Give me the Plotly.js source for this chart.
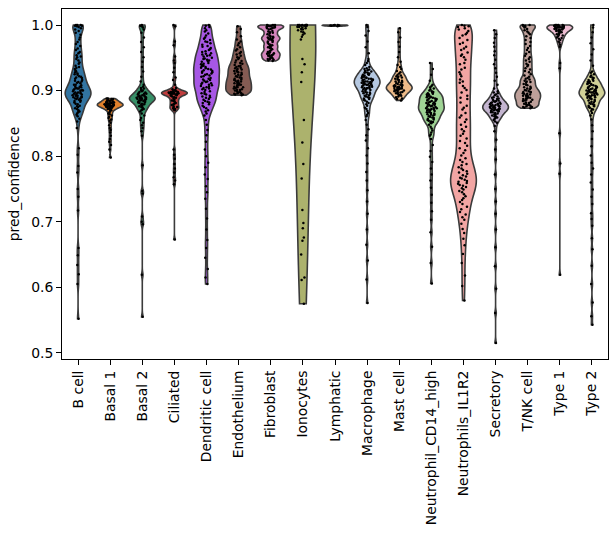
<!DOCTYPE html>
<html>
<head>
<meta charset="utf-8">
<script src="https://cdn.plot.ly/plotly-3.0.1.min.js"></script>
<style>
  html, body { margin: 0; padding: 0; background: #fff; }
  #chart { width: 613px; height: 534px; }
</style>
</head>
<body>
<div id="chart"></div>
<script>
// Cell-type groups, in plotting order
const categories = ['B cell', 'Basal 1', 'Basal 2', 'Ciliated', 'Dendritic cell', 'Endothelium',
  'Fibroblast', 'Ionocytes', 'Lymphatic', 'Macrophage', 'Mast cell', 'Neutrophil_CD14_high',
  'Neutrophils_IL1R2', 'Secretory', 'T/NK cell', 'Type 1', 'Type 2'];

// pred_confidence per cell, one array per group
const bCell = [1.000, 1.000, 1.000, 0.999, 0.999, 0.998, 0.997, 0.995, 0.993, 0.991,
  0.988, 0.985, 0.981, 0.978, 0.974, 0.971, 0.968, 0.964, 0.962, 0.959, 0.957, 0.954, 0.952, 0.951,
  0.948, 0.946, 0.943, 0.941, 0.938, 0.936, 0.935, 0.933, 0.931, 0.929, 0.928, 0.926, 0.925, 0.924, 0.922, 0.921, 0.920,
  0.919, 0.918, 0.916, 0.915, 0.914, 0.913, 0.912, 0.911, 0.909, 0.909, 0.908, 0.906, 0.906, 0.905, 0.904, 0.903, 0.903, 0.902, 0.901, 0.901, 0.900, 0.900,
  0.899, 0.898, 0.897, 0.897, 0.896, 0.895, 0.895, 0.894, 0.893, 0.893, 0.892, 0.892, 0.891, 0.890, 0.890, 0.889, 0.888, 0.888, 0.887, 0.886, 0.885, 0.884, 0.883, 0.882,
  0.880, 0.879, 0.877, 0.876, 0.875, 0.873, 0.872, 0.870, 0.868, 0.867, 0.865, 0.863, 0.861,
  0.857, 0.853,
  0.843, 0.812, 0.802, 0.785, 0.775, 0.750, 0.738, 0.717, 0.660, 0.649, 0.634, 0.620, 0.605, 0.552];

const basal1 = [0.888, 0.888, 0.887, 0.887, 0.886, 0.886, 0.885, 0.885, 0.884, 0.884,
  0.883, 0.883, 0.882, 0.882, 0.882, 0.881, 0.881, 0.881, 0.880, 0.880, 0.880, 0.879, 0.879, 0.879, 0.879,
  0.878, 0.878, 0.878, 0.878, 0.877, 0.877, 0.877, 0.877, 0.876, 0.876, 0.876, 0.876, 0.875,
  0.875, 0.874, 0.874, 0.873, 0.873, 0.872, 0.872, 0.871, 0.870, 0.869,
  0.867, 0.865, 0.864, 0.862, 0.860, 0.858, 0.856, 0.854, 0.851,
  0.847, 0.843, 0.840, 0.836, 0.831, 0.826, 0.822, 0.817, 0.810, 0.798];

const basal2 = [1.000, 0.999, 0.998, 0.996, 0.993,
  0.988, 0.981, 0.974, 0.966, 0.959, 0.951, 0.944, 0.936, 0.929, 0.921, 0.914, 0.909, 0.906,
  0.904, 0.903, 0.901, 0.900, 0.899, 0.898, 0.897, 0.896, 0.895, 0.895, 0.894, 0.893, 0.893, 0.892, 0.891, 0.891,
  0.890, 0.890, 0.889, 0.889, 0.888, 0.888, 0.888, 0.887, 0.887, 0.886, 0.886, 0.885, 0.885, 0.884, 0.884,
  0.883, 0.882, 0.882, 0.881, 0.880, 0.879, 0.878, 0.877, 0.876, 0.875, 0.874, 0.872, 0.871, 0.870,
  0.868, 0.865, 0.862, 0.858, 0.855, 0.851, 0.847, 0.843, 0.838, 0.831,
  0.786, 0.747, 0.743, 0.708, 0.700, 0.696, 0.619, 0.555];

const ciliated = [1.000, 0.998, 0.975, 0.969, 0.952, 0.946, 0.942, 0.935, 0.928, 0.920, 0.916, 0.909,
  0.904, 0.902, 0.901, 0.900, 0.899, 0.899, 0.898, 0.898, 0.898, 0.897, 0.897, 0.897, 0.897,
  0.896, 0.896, 0.896, 0.896, 0.895, 0.895, 0.895, 0.894, 0.894, 0.893, 0.893, 0.892, 0.891,
  0.890, 0.889, 0.888, 0.886, 0.885, 0.884, 0.883, 0.881, 0.880, 0.879, 0.878, 0.876, 0.875, 0.874, 0.873, 0.872, 0.871, 0.870,
  0.810, 0.802, 0.796, 0.788, 0.781, 0.775, 0.768, 0.763, 0.757, 0.673];

const dendritic = [1.000, 0.999, 0.997, 0.995, 0.992, 0.990, 0.987, 0.984, 0.981,
  0.979, 0.977, 0.975, 0.974, 0.972, 0.970, 0.968, 0.967, 0.965, 0.963, 0.962, 0.960, 0.959, 0.957, 0.956, 0.955, 0.954, 0.953, 0.952, 0.950,
  0.949, 0.948, 0.947, 0.946, 0.945, 0.944, 0.942, 0.941, 0.940, 0.939, 0.938, 0.937, 0.936, 0.935,
  0.934, 0.933, 0.932, 0.931, 0.930, 0.929, 0.928, 0.927, 0.926, 0.925, 0.924, 0.923, 0.922, 0.921,
  0.919, 0.918, 0.917, 0.916, 0.915, 0.914, 0.913, 0.912, 0.911, 0.910, 0.909, 0.908, 0.907, 0.906, 0.905, 0.904, 0.903, 0.902, 0.901,
  0.899, 0.898, 0.896, 0.895, 0.894, 0.892, 0.891, 0.890, 0.889, 0.887, 0.886, 0.884, 0.883, 0.882, 0.881,
  0.879, 0.877, 0.875, 0.873, 0.870, 0.868, 0.865, 0.862,
  0.855, 0.848, 0.840, 0.832, 0.822, 0.810, 0.800, 0.790, 0.783, 0.772, 0.765, 0.754,
  0.745, 0.735, 0.720, 0.705, 0.688, 0.672, 0.660, 0.645, 0.628, 0.615, 0.605];

const endothelium = [0.998, 0.994, 0.989, 0.983,
  0.978, 0.975, 0.972, 0.969, 0.966, 0.963, 0.961,
  0.959, 0.957, 0.955, 0.953, 0.951, 0.950, 0.948, 0.946, 0.945, 0.943, 0.942, 0.941,
  0.939, 0.938, 0.937, 0.936, 0.935, 0.934, 0.933, 0.932, 0.931, 0.930, 0.929, 0.928, 0.927, 0.926, 0.925, 0.924, 0.923, 0.922, 0.921,
  0.920, 0.919, 0.918, 0.917, 0.916, 0.915, 0.915, 0.914, 0.913, 0.912, 0.911, 0.910, 0.910, 0.909, 0.908, 0.907,
  0.906, 0.905, 0.905, 0.904, 0.903, 0.902, 0.901, 0.901, 0.900,
  0.899, 0.898, 0.897, 0.896, 0.896, 0.895, 0.894, 0.894, 0.893];

const fibroblast = [1.000, 1.000, 1.000, 0.999, 0.999, 0.999, 0.998, 0.998, 0.997, 0.997, 0.996, 0.996, 0.995, 0.995,
  0.994, 0.993, 0.991, 0.990, 0.989, 0.988, 0.987, 0.986,
  0.984, 0.983, 0.982, 0.981, 0.981, 0.980, 0.979, 0.979, 0.978, 0.977, 0.976, 0.975,
  0.974, 0.973, 0.971, 0.970, 0.969, 0.968, 0.967, 0.966, 0.965, 0.964, 0.963,
  0.961, 0.960, 0.959, 0.958, 0.957, 0.957, 0.956, 0.955, 0.954, 0.954, 0.953, 0.952, 0.951, 0.950,
  0.949, 0.948, 0.948, 0.947, 0.946, 0.945];

const ionocytes = [1.000, 1.000, 1.000, 1.000, 1.000, 1.000, 0.999, 0.999, 0.999, 0.998, 0.998,
  0.997, 0.997, 0.996, 0.995, 0.994, 0.993, 0.992, 0.990, 0.989, 0.987, 0.985, 0.982, 0.978,
  0.948, 0.940, 0.928, 0.913, 0.855, 0.821, 0.788, 0.766, 0.718, 0.698, 0.690, 0.676, 0.671, 0.650, 0.615, 0.611, 0.575];

const lymphatic = [1.000, 1.000, 0.9997, 0.9994, 0.9991, 0.9987, 0.9982];

const macrophage = [1.000, 0.997, 0.991, 0.984, 0.975, 0.966, 0.957,
  0.948, 0.945, 0.942, 0.939, 0.936,
  0.934, 0.933, 0.932, 0.931, 0.930, 0.929, 0.928, 0.927, 0.927, 0.926, 0.925, 0.924, 0.924, 0.923, 0.922, 0.922, 0.921, 0.921, 0.920,
  0.919, 0.919, 0.918, 0.918, 0.917, 0.917, 0.916, 0.916, 0.915, 0.915, 0.914, 0.914, 0.913, 0.913, 0.912, 0.912, 0.911, 0.911,
  0.910, 0.910, 0.909, 0.909, 0.908, 0.908, 0.907, 0.907, 0.906, 0.905, 0.905, 0.904, 0.904, 0.903, 0.902, 0.902, 0.901, 0.900,
  0.899, 0.898, 0.897, 0.897, 0.896, 0.895, 0.894, 0.893, 0.892, 0.891, 0.890, 0.889, 0.888, 0.887, 0.886, 0.885,
  0.883, 0.881, 0.879, 0.877, 0.874, 0.872, 0.869, 0.866, 0.863, 0.861,
  0.855, 0.848, 0.841, 0.832, 0.824, 0.812, 0.801, 0.789, 0.776, 0.763, 0.748, 0.731, 0.712,
  0.688, 0.665, 0.641, 0.612, 0.576];

const mastCell = [0.995, 0.989, 0.981, 0.974, 0.967, 0.959, 0.951, 0.944,
  0.939, 0.936, 0.933, 0.930, 0.928, 0.926,
  0.924, 0.923, 0.922, 0.921, 0.920, 0.919, 0.918, 0.917, 0.916, 0.915, 0.914, 0.913, 0.913, 0.912, 0.911, 0.910,
  0.909, 0.909, 0.908, 0.908, 0.907, 0.907, 0.906, 0.906, 0.905, 0.905, 0.904, 0.904, 0.903, 0.903,
  0.902, 0.902, 0.901, 0.901, 0.900, 0.900, 0.899, 0.898, 0.898, 0.897, 0.896, 0.895,
  0.894, 0.893, 0.892, 0.891, 0.890, 0.888, 0.887, 0.885];

const neutrophilCD14 = [0.942, 0.933, 0.924, 0.915,
  0.909, 0.907, 0.905, 0.903, 0.902, 0.900, 0.899, 0.898, 0.897, 0.896,
  0.895, 0.894, 0.894, 0.893, 0.892, 0.892, 0.891, 0.890, 0.890, 0.889, 0.888, 0.888, 0.887, 0.886,
  0.886, 0.885, 0.884, 0.884, 0.883, 0.882, 0.882, 0.881, 0.880, 0.880, 0.879, 0.878, 0.878, 0.877,
  0.876, 0.876, 0.875, 0.874, 0.874, 0.873, 0.873, 0.872, 0.872, 0.871, 0.871, 0.870, 0.870,
  0.869, 0.868, 0.867, 0.867, 0.866, 0.865, 0.864, 0.863, 0.863, 0.862, 0.861, 0.860, 0.859, 0.858,
  0.857, 0.856, 0.855, 0.854, 0.853, 0.852, 0.851, 0.850,
  0.848, 0.845, 0.842, 0.839, 0.836, 0.833, 0.831,
  0.826, 0.817, 0.808, 0.799, 0.791, 0.781, 0.772, 0.763, 0.752, 0.741, 0.729, 0.716, 0.703,
  0.684, 0.662, 0.637, 0.606];

const neutrophilsIL1R2 = [1.000, 0.999, 0.998, 0.997, 0.995, 0.993, 0.991, 0.988, 0.986, 0.984, 0.980,
  0.977, 0.973, 0.971, 0.967, 0.964, 0.962, 0.958, 0.955, 0.953, 0.951,
  0.947, 0.942, 0.940, 0.935, 0.932, 0.928, 0.925, 0.922, 0.917, 0.914, 0.912, 0.907, 0.904, 0.901,
  0.897, 0.892, 0.889, 0.887, 0.882, 0.877, 0.874, 0.871, 0.866, 0.862, 0.859, 0.856, 0.852,
  0.848, 0.845, 0.841, 0.838, 0.834, 0.831, 0.827, 0.823, 0.820, 0.816, 0.812, 0.809, 0.805, 0.801,
  0.797, 0.794, 0.791, 0.788, 0.786, 0.783, 0.781, 0.779, 0.777, 0.775, 0.773, 0.771, 0.769, 0.767,
  0.766, 0.764, 0.762, 0.761, 0.759, 0.758, 0.756, 0.755, 0.753, 0.751, 0.749, 0.747, 0.745, 0.742,
  0.739, 0.736, 0.733, 0.730, 0.727, 0.723, 0.719, 0.715, 0.711, 0.707, 0.703,
  0.697, 0.689, 0.683, 0.674, 0.664,
  0.651, 0.637, 0.618, 0.602, 0.580];

const secretory = [0.992, 0.986, 0.980, 0.973, 0.967, 0.960, 0.954, 0.947, 0.940, 0.934, 0.927, 0.921, 0.915, 0.909, 0.903,
  0.899, 0.897, 0.896, 0.894, 0.893, 0.891, 0.890, 0.889, 0.888, 0.887, 0.886,
  0.885, 0.884, 0.884, 0.883, 0.882, 0.882, 0.881, 0.880, 0.880, 0.879, 0.879, 0.878, 0.878, 0.877, 0.877, 0.876, 0.876, 0.875,
  0.875, 0.874, 0.874, 0.873, 0.873, 0.872, 0.872, 0.871, 0.871, 0.870, 0.870, 0.869, 0.869, 0.868, 0.867, 0.867, 0.866, 0.865,
  0.864, 0.863, 0.862, 0.861, 0.860, 0.859, 0.858, 0.857, 0.855, 0.853, 0.851,
  0.846, 0.838, 0.825, 0.810, 0.795, 0.772, 0.750, 0.731, 0.712,
  0.688, 0.661, 0.632, 0.598, 0.561, 0.515];

const tnkCell = [1.000, 1.000, 0.999, 0.999, 0.998, 0.997, 0.996, 0.994, 0.992, 0.990, 0.988, 0.986,
  0.983, 0.980, 0.977, 0.974, 0.971, 0.968, 0.965, 0.962, 0.959, 0.956, 0.953, 0.951,
  0.948, 0.946, 0.944, 0.941, 0.939, 0.937, 0.934, 0.932, 0.930, 0.928, 0.925, 0.923, 0.921,
  0.919, 0.918, 0.917, 0.915, 0.914, 0.913, 0.912, 0.910, 0.909, 0.908, 0.906, 0.905, 0.904, 0.903, 0.902, 0.901,
  0.900, 0.899, 0.898, 0.898, 0.897, 0.896, 0.895, 0.895, 0.894, 0.893, 0.892, 0.892, 0.891, 0.890,
  0.889, 0.889, 0.888, 0.887, 0.886, 0.886, 0.885, 0.884, 0.883, 0.882, 0.881, 0.880,
  0.879, 0.878, 0.878, 0.877, 0.876, 0.875, 0.875, 0.874, 0.873];

const type1 = [1.000, 1.000, 1.000, 1.000, 0.999, 0.999, 0.999, 0.999, 0.998, 0.998, 0.998, 0.997, 0.997, 0.997,
  0.996, 0.996, 0.996, 0.995, 0.995, 0.995,
  0.994, 0.994, 0.993, 0.993, 0.992, 0.992, 0.991, 0.990, 0.990, 0.989, 0.988, 0.987, 0.986, 0.985,
  0.984, 0.983, 0.981, 0.980, 0.979, 0.977, 0.975,
  0.973, 0.970, 0.967,
  0.942, 0.934, 0.835, 0.789, 0.773, 0.619];

const type2 = [1.000, 0.996, 0.989, 0.981, 0.972, 0.963, 0.955, 0.946, 0.938,
  0.929, 0.927, 0.925, 0.923, 0.921, 0.920, 0.919, 0.917, 0.916,
  0.915, 0.914, 0.913, 0.913, 0.912, 0.911, 0.910, 0.910, 0.909, 0.908, 0.907, 0.907, 0.906, 0.905, 0.905,
  0.904, 0.903, 0.903, 0.902, 0.901, 0.901, 0.900, 0.900, 0.899, 0.899, 0.898, 0.898, 0.897, 0.897,
  0.896, 0.896, 0.895, 0.895, 0.894, 0.894, 0.893, 0.893, 0.892, 0.892, 0.891, 0.891, 0.890, 0.890,
  0.889, 0.888, 0.887, 0.886, 0.885, 0.884, 0.883, 0.882, 0.881, 0.880, 0.879, 0.878, 0.877, 0.876, 0.875, 0.874, 0.872, 0.871,
  0.869, 0.866, 0.862,
  0.856, 0.847, 0.838, 0.826, 0.815, 0.801, 0.790, 0.781, 0.772, 0.760, 0.749, 0.738, 0.727, 0.713, 0.704,
  0.694, 0.675, 0.658, 0.633, 0.605, 0.577, 0.556, 0.543];

const groupValues = [bCell, basal1, basal2, ciliated, dendritic, endothelium, fibroblast, ionocytes,
  lymphatic, macrophage, mastCell, neutrophilCD14, neutrophilsIL1R2, secretory, tnkCell, type1, type2];

// Kernel bandwidth used for each group's density estimate
const bandwidths = [0.007, 0.0025, 0.004, 0.003, 0.008, 0.005, 0.003, 0.12, 0.0007,
  0.005, 0.004, 0.005, 0.015, 0.004, 0.004, 0.004, 0.005];

// Category palette (muted)
const fillColors = ['#3274a1', '#e1812c', '#368f67', '#c03d3e', '#a757e5', '#845b53', '#d585bd',
  '#acb26d', '#2eabb8', '#b5c8e1', '#eebb89', '#9fd495', '#f2a5a3', '#c4b5d0', '#bea09a',
  '#efbed3', '#d1d197'];

const traces = categories.map((name, i) => ({
  type: 'violin',
  name: name,
  x0: name,
  y: groupValues[i],
  spanmode: 'hard',
  bandwidth: bandwidths[i],
  scalemode: 'width',
  width: 0.8,
  fillcolor: fillColors[i],
  line: { color: '#3b3b3b', width: 1.6 },
  points: 'all',
  pointpos: 0,
  jitter: 0.45,
  marker: { size: 2.5, color: '#000000', line: { width: 0 } },
  box: { visible: false },
  meanline: { visible: false },
  hoverinfo: 'y+name'
}));

const axisFont = { family: 'DejaVu Sans, sans-serif', size: 13.9, color: '#000' };

const layout = {
  width: 613,
  height: 534,
  margin: { l: 62, r: 5, t: 9, b: 175 },
  showlegend: false,
  violinmode: 'overlay',
  paper_bgcolor: '#ffffff',
  plot_bgcolor: '#ffffff',
  font: axisFont,
  xaxis: {
    type: 'category',
    categoryorder: 'array',
    categoryarray: categories,
    range: [-0.5, categories.length - 0.5],
    tickangle: -90,
    ticks: 'outside',
    ticklen: 5,
    tickwidth: 1,
    tickcolor: '#000',
    tickfont: axisFont,
    showline: true,
    linecolor: '#000',
    linewidth: 1,
    mirror: true,
    showgrid: false,
    zeroline: false
  },
  yaxis: {
    range: [0.4907, 1.0244],
    tickvals: [0.5, 0.6, 0.7, 0.8, 0.9, 1.0],
    tickformat: '.1f',
    ticks: 'outside',
    ticklen: 5,
    tickwidth: 1,
    tickcolor: '#000',
    tickfont: axisFont,
    showline: true,
    linecolor: '#000',
    linewidth: 1,
    mirror: true,
    showgrid: false,
    zeroline: false,
    title: { text: 'pred_confidence', font: axisFont, standoff: 8 }
  }
};

Plotly.newPlot('chart', traces, layout, { staticPlot: true, displayModeBar: false });
</script>
</body>
</html>
